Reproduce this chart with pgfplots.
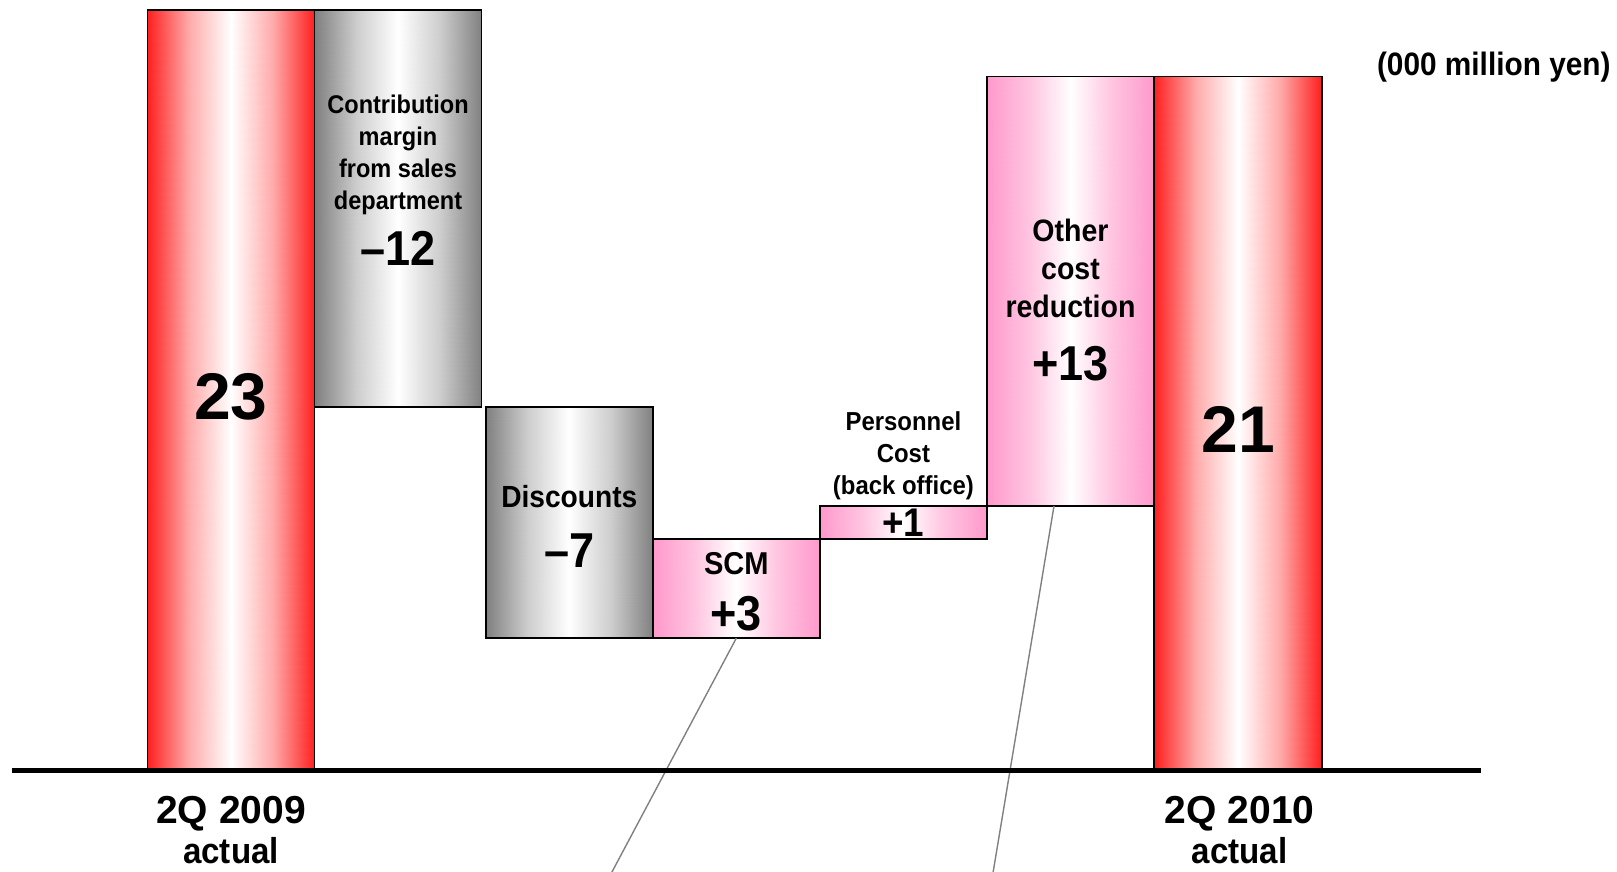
\documentclass[border=0pt]{standalone}
\usepackage{pgfplots}
\pgfplotsset{compat=1.18}
\usepgfplotslibrary{patchplots}
\usepackage{fontspec}
% slightly condensed sans for labels, normal width for the totals
\setmainfont{Liberation Sans}[FakeStretch=0.92]
\newfontfamily\numfont{Liberation Sans}

\definecolor{leader}{RGB}{128,128,128}

\tikzset{
  outline/.style={draw=black, line width=0.8pt, fill=none},
  bignum/.style={inner sep=0pt, font=\numfont\bfseries\fontsize{33}{33}\selectfont},
  chg/.style={inner sep=0pt, font=\bfseries\fontsize{24.5}{26}\selectfont},
}

\begin{document}
\begin{tikzpicture}
\begin{axis}[
    scale only axis, width=808.5pt, height=435.5pt,
    xmin=0, xmax=1617, ymin=-3.044, ymax=23.31,
    axis lines=none, ticks=none,
    % meta 0 pink edge, 1 white, 2 red edge, 3 white, 4 grey edge
    colormap={bridge}{
      rgb255(0cm)=(255,153,204) rgb255(0.5cm)=(255,196,224) rgb255(1cm)=(255,255,255)
      rgb255(1.5cm)=(255,170,170) rgb255(2cm)=(255,30,30)
      rgb255(3cm)=(255,255,255) rgb255(3.5cm)=(205,205,205) rgb255(4cm)=(128,128,128)},
    colormap name=bridge, point meta min=0, point meta max=4,
  ]
  \coordinate (sw) at (rel axis cs:0,0);
  \coordinate (ne) at (rel axis cs:1,1);

  % each bar: left half and right half, edge colour fading to white in the middle
  % 2Q 2009 actual: 0 -> 23
  \addplot[patch, patch type=rectangle, shader=interp, point meta=explicit] coordinates {
    (147.5,0) [2] (231,0) [1] (231,23) [1] (147.5,23) [2]
    (231,0) [1] (314.5,0) [2] (314.5,23) [2] (231,23) [1]};
  % contribution margin from sales department: 23 -> 11
  \addplot[patch, patch type=rectangle, shader=interp, point meta=explicit] coordinates {
    (314.5,11) [4] (398,11) [3] (398,23) [3] (314.5,23) [4]
    (398,11) [3] (481.6,11) [4] (481.6,23) [4] (398,23) [3]};
  % discounts: 11 -> 4
  \addplot[patch, patch type=rectangle, shader=interp, point meta=explicit] coordinates {
    (485.7,4) [4] (569.3,4) [3] (569.3,11) [3] (485.7,11) [4]
    (569.3,4) [3] (652.8,4) [4] (652.8,11) [4] (569.3,11) [3]};
  % SCM: 4 -> 7
  \addplot[patch, patch type=rectangle, shader=interp, point meta=explicit] coordinates {
    (652.8,4) [0] (736.3,4) [1] (736.3,7) [1] (652.8,7) [0]
    (736.3,4) [1] (819.9,4) [0] (819.9,7) [0] (736.3,7) [1]};
  % personnel cost (back office): 7 -> 8
  \addplot[patch, patch type=rectangle, shader=interp, point meta=explicit] coordinates {
    (819.9,7) [0] (903.4,7) [1] (903.4,8) [1] (819.9,8) [0]
    (903.4,7) [1] (987,7) [0] (987,8) [0] (903.4,8) [1]};
  % other cost reduction: 8 -> 21
  \addplot[patch, patch type=rectangle, shader=interp, point meta=explicit] coordinates {
    (987,8) [0] (1070.5,8) [1] (1070.5,21) [1] (987,21) [0]
    (1070.5,8) [1] (1154,8) [0] (1154,21) [0] (1070.5,21) [1]};
  % 2Q 2010 actual: 0 -> 21
  \addplot[patch, patch type=rectangle, shader=interp, point meta=explicit] coordinates {
    (1154,0) [2] (1238,0) [1] (1238,21) [1] (1154,21) [2]
    (1238,0) [1] (1322,0) [2] (1322,21) [2] (1238,21) [1]};

  % bar outlines
  \addplot[outline] coordinates {(147.5,0) (314.5,0) (314.5,23) (147.5,23)} -- cycle;
  \addplot[outline] coordinates {(314.5,11) (481.6,11) (481.6,23) (314.5,23)} -- cycle;
  \addplot[outline] coordinates {(485.7,4) (652.8,4) (652.8,11) (485.7,11)} -- cycle;
  \addplot[outline] coordinates {(652.8,4) (819.9,4) (819.9,7) (652.8,7)} -- cycle;
  \addplot[outline] coordinates {(819.9,7) (987,7) (987,8) (819.9,8)} -- cycle;
  \addplot[outline] coordinates {(987,8) (1154,8) (1154,21) (987,21)} -- cycle;
  \addplot[outline] coordinates {(1154,0) (1322,0) (1322,21) (1154,21)} -- cycle;

  % leader lines and baseline
  \addplot[leader, line width=0.7pt] coordinates {(736.3,4) (611.5,-3.1)};
  \addplot[leader, line width=0.7pt] coordinates {(1054,8) (993,-3.1)};
  \addplot[black, line width=2.5pt] coordinates {(12.4,0) (1481,0)};

  \node[bignum] at (axis cs:231,11.3) {23};
  \node[bignum] at (axis cs:1238,10.31) {21};

  \node[inner sep=0pt, align=center, font=\bfseries\fontsize{12.8}{16}\selectfont]
    at (axis cs:398,18.62) {Contribution\\margin\\from sales\\department};
  \node[chg] at (axis cs:398,15.8) {–12};

  \node[inner sep=0pt, font=\bfseries\fontsize{15.3}{19}\selectfont] at (axis cs:569.3,8.3) {Discounts};
  \node[chg] at (axis cs:569.3,6.65) {–7};

  \node[inner sep=0pt, font=\bfseries\fontsize{15.8}{19}\selectfont] at (axis cs:736.3,6.27) {SCM};
  \node[chg] at (axis cs:736.3,4.75) {+3};

  \node[inner sep=0pt, anchor=south, yshift=3pt, align=center, font=\bfseries\fontsize{13}{16}\selectfont]
    at (axis cs:903.4,8) {Personnel\\Cost\\(back office)};
  \node[inner sep=0pt, font=\bfseries\fontsize{20}{20}\selectfont] at (axis cs:903.4,7.5) {+1};

  \node[inner sep=0pt, align=center, font=\bfseries\fontsize{15.5}{19}\selectfont]
    at (axis cs:1070.5,15.18) {Other\\cost\\reduction};
  \node[chg] at (axis cs:1070.5,12.31) {+13};

  \node[inner sep=0pt, anchor=east, font=\bfseries\fontsize{16.2}{18}\selectfont]
    at (axis cs:1611,21.28) {(000 million yen)};

  \node[inner sep=0pt, font=\numfont\bfseries\fontsize{19.5}{21}\selectfont] at (axis cs:231,-1.3) {2Q 2009};
  \node[inner sep=0pt, font=\bfseries\fontsize{18}{21}\selectfont] at (axis cs:231,-2.42) {actual};
  \node[inner sep=0pt, font=\numfont\bfseries\fontsize{19.5}{21}\selectfont] at (axis cs:1239.6,-1.3) {2Q 2010};
  \node[inner sep=0pt, font=\bfseries\fontsize{18}{21}\selectfont] at (axis cs:1239.6,-2.42) {actual};
\end{axis}
\pgfresetboundingbox
\useasboundingbox (sw) rectangle (ne);
\end{tikzpicture}
\end{document}
